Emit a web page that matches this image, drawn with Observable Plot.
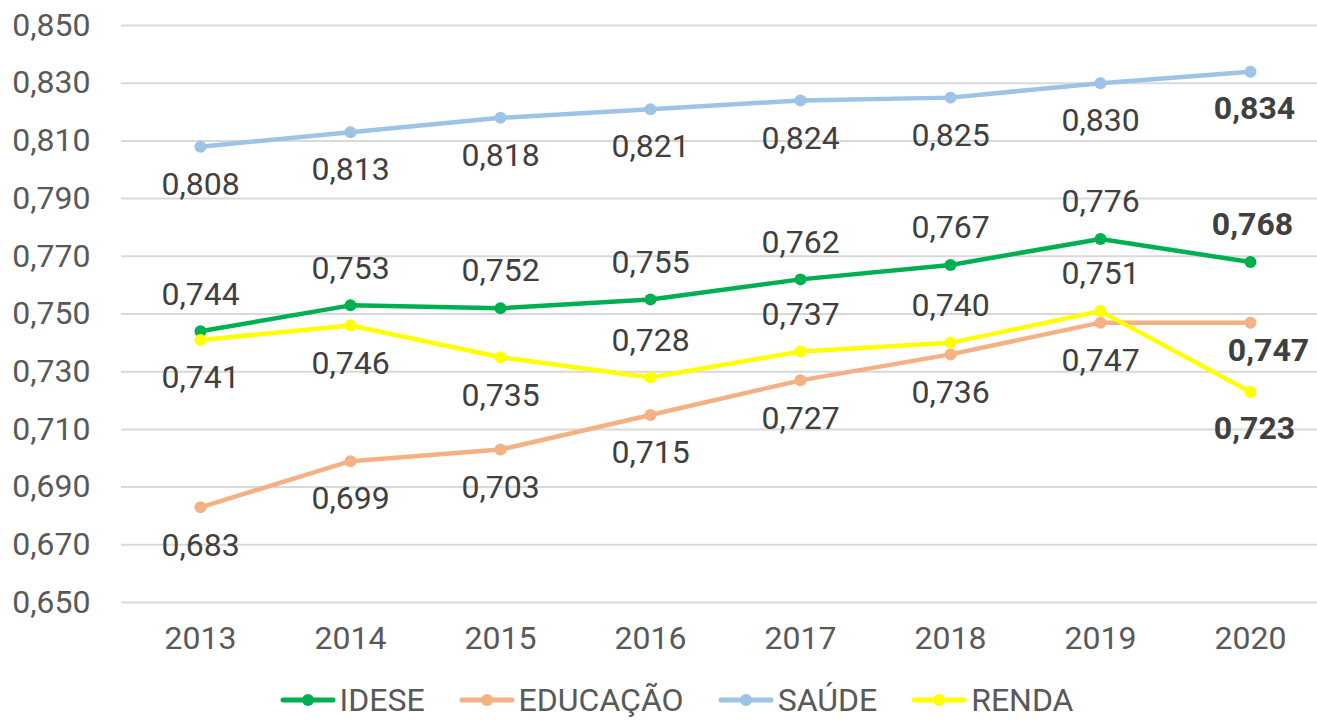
<!DOCTYPE html>
<html>
<head>
<meta charset="utf-8">
<script src="https://cdn.jsdelivr.net/npm/d3@7"></script>
<script src="https://cdn.jsdelivr.net/npm/@observablehq/plot@0.6"></script>
<style>
  html, body { margin: 0; padding: 0; background: #fff; }
  body { width: 1317px; height: 720px; overflow: hidden; font-family: Roboto, sans-serif; }
  #legend { display: flex; justify-content: center; align-items: center; gap: 34px; height: 40px; font-size: 32px; color: #595959; margin-left: 36px; }
  .item { display: flex; align-items: center; gap: 4px; }
</style>
</head>
<body>
<div id="chart"></div>
<div id="legend"></div>
<script>
const years = [2013, 2014, 2015, 2016, 2017, 2018, 2019, 2020];
const seriesNames = ["IDESE", "EDUCAÇÃO", "SAÚDE", "RENDA"];
const idese    = [0.744, 0.753, 0.752, 0.755, 0.762, 0.767, 0.776, 0.768];
const educacao = [0.683, 0.699, 0.703, 0.715, 0.727, 0.736, 0.747, 0.747];
const saude    = [0.808, 0.813, 0.818, 0.821, 0.824, 0.825, 0.830, 0.834];
const renda    = [0.741, 0.746, 0.735, 0.728, 0.737, 0.740, 0.751, 0.723];
const yTicks = [0.650, 0.670, 0.690, 0.710, 0.730, 0.750, 0.770, 0.790, 0.810, 0.830, 0.850];
const colors = ["#00B050", "#F4B183", "#9DC3E6", "#FFFF00"];
// label side: 1 = above, -1 = below
const labelSide = {
  "IDESE":    [1, 1, 1, 1, 1, 1, 1, 1],
  "EDUCAÇÃO": [-1, -1, -1, -1, -1, -1, -1, -1],
  "SAÚDE":    [-1, -1, -1, -1, -1, -1, -1, -1],
  "RENDA":    [-1, -1, -1, 1, 1, 1, 1, -1]
};
const valuesBy = {"IDESE": idese, "EDUCAÇÃO": educacao, "SAÚDE": saude, "RENDA": renda};

const data = [];
for (const s of seriesNames) {
  years.forEach((yr, i) => data.push({series: s, year: yr, value: valuesBy[s][i], side: labelSide[s][i], last: i === years.length - 1}));
}
const fmt = v => v.toFixed(3).replace(".", ",");
const colorScale = {domain: seriesNames, range: colors};

const labelsNormal = data.filter(d => !d.last);
const labelsLast = data.filter(d => d.last);
const FS = 32;

const chart = Plot.plot({
  width: 1317,
  height: 680,
  marginLeft: 121,
  marginRight: 0,
  marginTop: 25,
  marginBottom: 78,
  style: {fontFamily: "Roboto, sans-serif", fontSize: FS + "px", color: "#595959", background: "#fff"},
  x: {type: "point", domain: years, padding: 0, insetLeft: 76, insetRight: 65, label: null},
  y: {domain: [0.65, 0.85], label: null},
  color: colorScale,
  marks: [
    Plot.ruleY(yTicks, {stroke: "#d9d9d9", strokeWidth: 2}),
    Plot.axisY({ticks: yTicks, tickSize: 0, tickPadding: 31, tickFormat: fmt, fontSize: FS, fill: "#595959", label: null}),
    Plot.axisX({tickSize: 0, tickPadding: 24, tickFormat: d => String(d), fontSize: FS, fill: "#595959", label: null}),
    Plot.line(data, {x: "year", y: "value", z: "series", stroke: "series", strokeWidth: 4.5, curve: "linear"}),
    Plot.dot(data, {x: "year", y: "value", fill: "series", r: 6}),
    Plot.text(labelsNormal.filter(d => d.side > 0), {x: "year", y: "value", text: d => fmt(d.value), dy: -37, fill: "#404040", fontSize: FS}),
    Plot.text(labelsNormal.filter(d => d.side < 0), {x: "year", y: "value", text: d => fmt(d.value), dy: 38, fill: "#404040", fontSize: FS}),
    Plot.text(labelsLast.filter(d => d.side > 0), {x: "year", y: "value", text: d => fmt(d.value), dy: -37, dx: 2, fill: "#404040", fontSize: FS, fontWeight: "bold"}),
    Plot.text(labelsLast.filter(d => d.side < 0 && d.series === "EDUCAÇÃO"), {x: "year", y: "value", text: d => fmt(d.value), dy: 28, dx: 18, fill: "#404040", fontSize: FS, fontWeight: "bold"}),
    Plot.text(labelsLast.filter(d => d.side < 0 && d.series !== "EDUCAÇÃO"), {x: "year", y: "value", text: d => fmt(d.value), dy: 37, dx: 4, fill: "#404040", fontSize: FS, fontWeight: "bold"})
  ]
});
document.getElementById("chart").appendChild(chart);

const legend = document.getElementById("legend");
seriesNames.forEach((s, i) => {
  const item = document.createElement("div");
  item.className = "item";
  item.innerHTML = `<svg width="56" height="20"><line x1="3" x2="53" y1="10" y2="10" stroke="${colors[i]}" stroke-width="5" stroke-linecap="round"/><circle cx="28" cy="10" r="6" fill="${colors[i]}"/></svg><span>${s}</span>`;
  legend.appendChild(item);
});
</script>
</body>
</html>
